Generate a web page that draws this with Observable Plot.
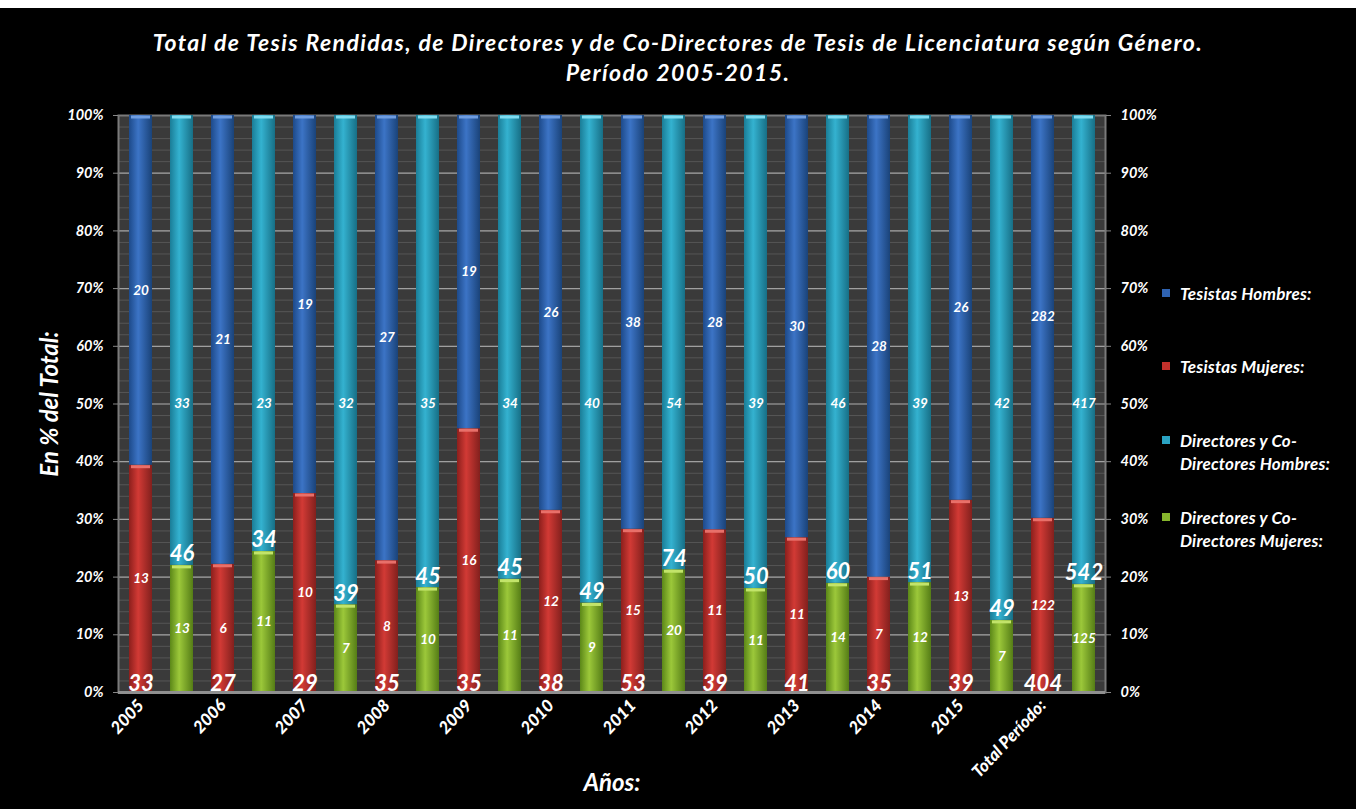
<!DOCTYPE html>
<html>
<head>
<meta charset="utf-8">
<script src="https://cdn.jsdelivr.net/npm/d3@7"></script>
<script src="https://cdn.jsdelivr.net/npm/@observablehq/plot@0.6"></script>
<style>
  html, body { margin: 0; padding: 0; background: #fff; }
  #wrap { position: absolute; left: 0; top: 8px; width: 1356px; height: 801px; background: #000;
          font-family: Lato, "Open Sans", sans-serif; color: #fff; font-style: italic; font-weight: bold; overflow: hidden; }
  #title { position: absolute; left: 0; top: 19px; width: 1356px; text-align: center; font-size: 23px; line-height: 30px; letter-spacing: 1.4px; }
  #chart { position: absolute; left: 0; top: 87px; }
  .leg { position: absolute; left: 1180px; font-size: 17px; line-height: 23px; font-weight: bold; letter-spacing: 0.2px; }
  .sw { position: absolute; left: 1162px; width: 8px; height: 8px; }
</style>
</head>
<body>
<div id="wrap">
  <div id="title">Total de Tesis Rendidas, de Directores y de Co-Directores de Tesis de Licenciatura según Género.<br>Período 2005-2015.</div>
  <div id="chart"></div>
  <div id="legend"></div>
</div>
<script>
// ---- data ----
const years = ["2005","2006","2007","2008","2009","2010","2011","2012","2013","2014","2015","Total Período:"];
const tesistasHombres   = [20, 21, 19, 27, 19, 26, 38, 28, 30, 28, 26, 282];
const tesistasMujeres   = [13,  6, 10,  8, 16, 12, 15, 11, 11,  7, 13, 122];
const tesistasTotal     = [33, 27, 29, 35, 35, 38, 53, 39, 41, 35, 39, 404];
const directoresHombres = [33, 23, 32, 35, 34, 40, 54, 39, 46, 39, 42, 417];
const directoresMujeres = [13, 11,  7, 10, 11,  9, 20, 11, 14, 12,  7, 125];
const directoresTotal   = [46, 34, 39, 45, 45, 49, 74, 50, 60, 51, 49, 542];
const seriesNames = ["Tesistas Hombres:", "Tesistas Mujeres:", "Directores y Co-Directores Hombres:", "Directores y Co-Directores Mujeres:"];
const yTicks = [0, 0.1, 0.2, 0.3, 0.4, 0.5, 0.6, 0.7, 0.8, 0.9, 1];
const yTickLabels = ["0%","10%","20%","30%","40%","50%","60%","70%","80%","90%","100%"];
const minorTicks = d3.range(0, 51).map(i => i / 50);

// ---- table for the stacked bars ----
const rows = [];
const keys = [];
years.forEach((y, i) => {
  const kT = y + "|T", kD = y + "|D";
  keys.push(kT, kD);
  rows.push({key: kT, series: "tm", value: tesistasMujeres[i], label: tesistasMujeres[i], total: tesistasTotal[i]});
  rows.push({key: kT, series: "th", value: tesistasHombres[i], label: tesistasHombres[i], total: tesistasTotal[i]});
  rows.push({key: kD, series: "dm", value: directoresMujeres[i], label: directoresMujeres[i], total: directoresTotal[i]});
  // in the original the upper (cyan) segment of the directors' bar holds the total
  rows.push({key: kD, series: "dh", value: directoresTotal[i], label: directoresHombres[i], total: directoresTotal[i]});
});
const tickKeys = keys.filter(k => k.endsWith("|T"));
const keyLabel = new Map(years.map(y => [y + "|T", y]));

const fillUrl = ["url(#gRed)", "url(#gBlue)", "url(#gGreen)", "url(#gCyan)"];
const capColors = ["#e8706a", "#6f9de0", "#c2e46a", "#7fdcf0"];
const stackOpts = {x: "key", y: "value", z: "series", offset: "normalize"};

const chart = Plot.plot({
  width: 1356,
  height: 714,
  marginTop: 20,
  marginBottom: 117,
  marginLeft: 118,
  marginRight: 251,
  style: {background: "transparent", color: "#fff", fontFamily: "Lato, 'Open Sans', sans-serif", fontStyle: "italic", fontWeight: "bold"},
  x: {type: "band", domain: keys, paddingInner: 0.44, paddingOuter: 0.22, axis: null},
  y: {domain: [0, 1], axis: null},
  color: {type: "ordinal", domain: ["tm", "th", "dm", "dh"], range: fillUrl},
  marks: [
    Plot.frame({fill: "#3a3a3a"}),
    Plot.ruleY(minorTicks, {stroke: "#565656", strokeWidth: 1}),
    Plot.ruleY(yTicks, {stroke: "#a0a0a0", strokeWidth: 1.2}),
    Plot.frame({stroke: "#7a7a7a", strokeWidth: 2}),
    Plot.barY(rows, {...stackOpts, fill: "series"}),
    // light cap at the top of each segment
    Plot.tickY(rows, Plot.stackY2({...stackOpts, stroke: d => capColors[["tm","th","dm","dh"].indexOf(d.series)], strokeWidth: 3, inset: 2, dy: 1.5})),
    Plot.text(rows, Plot.stackY({...stackOpts, text: d => d.series === "dh" ? "" : String(d.label), fill: "#fff", fontSize: 13.5})),
    Plot.text(rows.filter(d => d.series === "dh"), {x: "key", y: () => 0.5, text: d => String(d.label), fill: "#fff", fontSize: 13.5}),
    Plot.text(rows.filter(d => d.series === "tm"), {x: "key", y: () => 0, text: d => String(d.total), fill: "#fff", fontSize: 22, lineAnchor: "bottom", dy: -2}),
    Plot.text(rows, Plot.stackY2({...stackOpts, text: d => d.series === "dm" ? String(d.total) : "", fill: "#fff", fontSize: 22, lineAnchor: "bottom", dy: -4})),
    Plot.ruleY([0], {stroke: "#8f8f8f", strokeWidth: 3}),
    Plot.axisY({anchor: "left", ticks: yTicks, tickFormat: (d, i) => yTickLabels[i], tickSize: 5, tickPadding: 10, fontSize: 14.5, label: null, stroke: "#888"}),
    Plot.axisY({anchor: "left", ticks: [], label: "En % del Total:", labelAnchor: "center", labelArrow: "none", labelOffset: 78, fontSize: 24}),
    Plot.axisY({anchor: "right", ticks: yTicks, tickFormat: (d, i) => yTickLabels[i], tickSize: 5, tickPadding: 10, fontSize: 14.5, label: null, stroke: "#888"}),
    Plot.axisX({ticks: tickKeys, tickFormat: k => keyLabel.get(k), tickRotate: -47, tickSize: 0, tickPadding: 10, fontSize: 17, fontWeight: 900, label: null}),
    Plot.axisX({ticks: [], label: "Años:", labelAnchor: "center", labelArrow: "none", labelOffset: 98, fontSize: 24, dx: 12})
  ]
});

// gradients giving the bars their rounded look
const svg = d3.select(chart);
const defs = svg.insert("defs", ":first-child");
const grads = [
  ["gBlue", "#1d4a8a", "#3c74c6", "#1a4379"],
  ["gRed", "#8c1f1c", "#d23a35", "#82201d"],
  ["gCyan", "#1a7d97", "#34b2d0", "#176f86"],
  ["gGreen", "#5b8718", "#9cc83a", "#557d16"]
];
grads.forEach(([id, a, b, c]) => {
  const g = defs.append("linearGradient").attr("id", id).attr("x1", 0).attr("x2", 1).attr("y1", 0).attr("y2", 0);
  g.append("stop").attr("offset", "0").attr("stop-color", a);
  g.append("stop").attr("offset", "0.4").attr("stop-color", b);
  g.append("stop").attr("offset", "1").attr("stop-color", c);
});
document.getElementById("chart").appendChild(chart);

// legend
const legColors = ["#2f63b2", "#c2312c", "#2aa3c3", "#86b52c"];
const legTops = [293, 366, 440, 517];
const leg = document.getElementById("legend");
seriesNames.forEach((name, j) => {
  const sw = document.createElement("div");
  sw.className = "sw";
  sw.style.top = (legTops[j] - 8 - 4) + "px";
  sw.style.background = legColors[j];
  leg.appendChild(sw);
  const t = document.createElement("div");
  t.className = "leg";
  t.style.top = (legTops[j] - 8 - 11.5) + "px";
  t.innerHTML = name.replace("Co-Directores", "Co-<br>Directores");
  leg.appendChild(t);
});
</script>
</body>
</html>
